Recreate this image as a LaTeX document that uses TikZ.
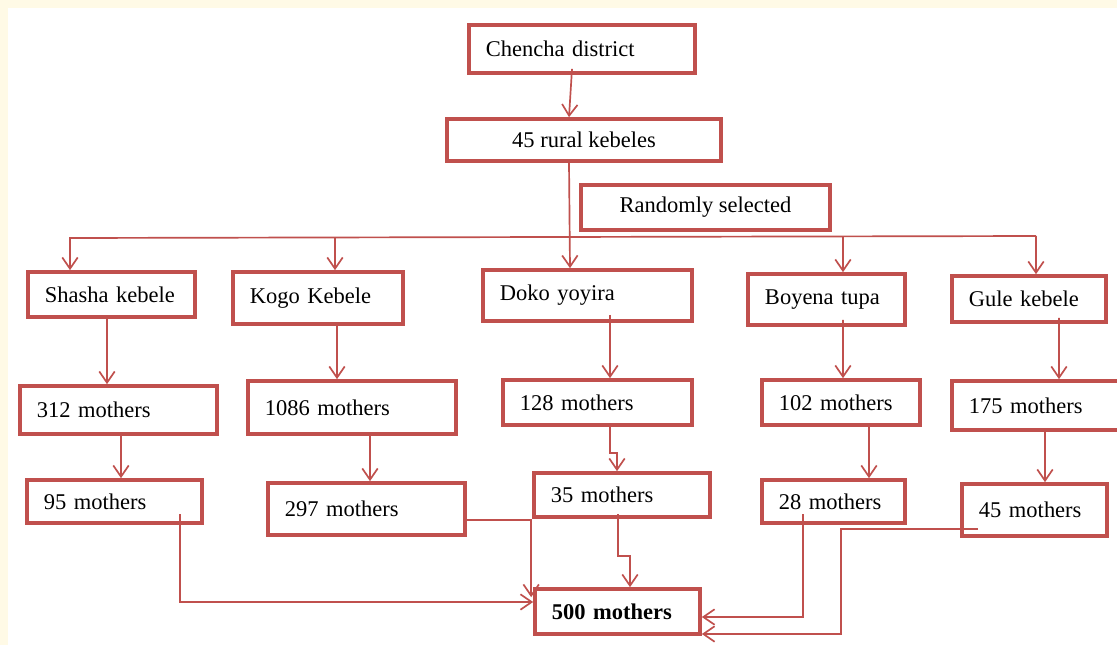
\documentclass[tikz,border=0pt]{standalone}
\usepackage{fontspec}
\setmainfont{Liberation Serif}
\usepackage{xcolor}
\definecolor{frame}{HTML}{C0504D}
\definecolor{paper}{HTML}{FFFAE6}
\usepackage{tikz}
\usetikzlibrary{arrows.meta, calc}

\begin{document}
\begin{tikzpicture}[
  x=0.025cm, y=-0.025cm,
  box/.style={draw=frame, line width=2.6pt, fill=white, align=left,
    inner xsep=0.425cm, font=\fontsize{16}{19}\selectfont},
  arr/.style={draw=frame, line width=1.2pt,
    -{Straight Barb[length=8pt,width=11pt]}},
]
  \clip (0,0) rectangle (1117,645);
  \fill[paper] (0,0) rectangle (1117,645);
  \fill[white] (8,8) rectangle (1117,645);

  % top of the tree
  \node[box, minimum width=5.65cm, minimum height=1.2cm, text width=4.8cm]
    (chencha) at (582,49) {Chencha district};
  \node[box, align=center, minimum width=6.85cm, minimum height=1.05cm]
    (rural) at (584,140) {45 rural kebeles};
  \node[box, align=center, minimum width=6.225cm, minimum height=1.125cm]
    (random) at (705.5,207.5) {Randomly selected};

  % kebeles
  \node[box, minimum width=4.175cm, minimum height=1.125cm, text width=3.325cm]
    (shasha) at (111.5,294.5) {Shasha kebele};
  \node[box, minimum width=4.25cm, minimum height=1.3cm, text width=3.4cm]
    (kogo) at (318,298) {Kogo Kebele};
  \node[box, minimum width=5.225cm, minimum height=1.275cm, text width=4.375cm]
    (doko) at (587.5,295.5) {Doko yoyira};
  \node[box, minimum width=3.925cm, minimum height=1.275cm, text width=3.075cm]
    (boyena) at (826.5,299.5) {Boyena tupa};
  \node[box, minimum width=3.85cm, minimum height=1.15cm, text width=3.0cm]
    (gule) at (1029,299) {Gule kebele};

  % mothers per kebele
  \node[box, minimum width=4.925cm, minimum height=1.2cm, text width=4.075cm]
    (m312) at (118.5,410) {312 mothers};
  \node[box, minimum width=5.2cm, minimum height=1.325cm, text width=4.35cm]
    (m1086) at (352,407.5) {1086 mothers};
  \node[box, minimum width=4.725cm, minimum height=1.125cm, text width=3.875cm]
    (m128) at (597.5,402.5) {128 mothers};
  \node[box, minimum width=3.95cm, minimum height=1.125cm, text width=3.1cm]
    (m102) at (841,402.5) {102 mothers};
  \node[box, minimum width=4.275cm, minimum height=1.225cm, text width=3.425cm]
    (m175) at (1037.5,405.5) {175 mothers};

  % sampled mothers
  \node[box, minimum width=4.375cm, minimum height=1.075cm, text width=3.525cm]
    (m95) at (114.5,501.5) {95 mothers};
  \node[box, minimum width=4.925cm, minimum height=1.3cm, text width=4.075cm]
    (m297) at (366.5,509) {297 mothers};
  \node[box, minimum width=4.4cm, minimum height=1.1cm, text width=3.55cm]
    (m35) at (622,495) {35 mothers};
  \node[box, minimum width=3.575cm, minimum height=1.075cm, text width=2.725cm]
    (m28) at (833.5,501.5) {28 mothers};
  \node[box, minimum width=3.625cm, minimum height=1.3cm, text width=2.775cm]
    (m45) at (1034.5,510) {45 mothers};

  \node[box, minimum width=4.125cm, minimum height=1.125cm, text width=3.275cm,
    font=\fontsize{16}{19}\selectfont\bfseries]
    (m500) at (617.5,611.5) {500 mothers};

  % connectors
  \coordinate (busL) at (70,238);
  \coordinate (busR) at (1036,236);

  \draw[arr] ($(chencha.south)+(-10,-6)$) -- ($(rural.north)+(-15,0)$);
  \draw[arr] ($(rural.south)+(-15,0)$) -- ($(doko.north)+(-17.5,0)$);
  \draw[arr] (busR) -- (busL) -- (busL |- shasha.north);
  \draw[arr] (busR) -- (busR |- gule.north);
  \draw[arr] ($(kogo.north |- busL)+(17,0)$) -- ($(kogo.north)+(17,0)$);
  \draw[arr] ($(boyena.north |- busR)+(16.5,0)$) -- ($(boyena.north)+(16.5,0)$);

  \draw[arr] ($(shasha.south)+(-4.5,0)$) -- ($(m312.north)+(-11.5,0)$);
  \draw[arr] ($(kogo.south)+(19,0)$) -- ($(m1086.north)+(-15,0)$);
  \draw[arr] ($(doko.south)+(22.5,-8)$) -- ($(m128.north)+(12.5,0)$);
  \draw[arr] ($(boyena.south)+(16.5,-7)$) -- ($(m102.north)+(2,0)$);
  \draw[arr] ($(gule.south)+(30,-6)$) -- ($(m175.north)+(21.5,0)$);

  \draw[arr] ($(m312.south)+(2.5,0)$) -- ($(m95.north)+(6.5,0)$);
  \draw[arr] ($(m1086.south)+(18,0)$) -- ($(m297.north)+(3.5,0)$);
  \draw[arr] ($(m128.south)+(12.5,0)$) |- ($(m35.north)+(-5,-18)$)
    -- ($(m35.north)+(-5,0)$);
  \draw[arr] ($(m102.south)+(28,0)$) -- ($(m28.north)+(35.5,0)$);
  \draw[arr] ($(m175.south)+(7.5,0)$) -- ($(m45.north)+(10.5,0)$);

  \draw[arr] ($(m95.center)+(65.5,12.5)$) |- ($(m500.west)+(0,-9.5)$);
  \draw[arr] ($(m297.east)+(0,11)$) -| ($(m500.north west)+(-2,10)$);
  \draw[arr] ($(m35.center)+(-4,19)$) |- ($(m500.north)+(12.5,-31)$)
    -- ($(m500.north)+(12.5,0)$);
  \draw[arr] ($(m28.center)+(-30.5,12.5)$) |- ($(m500.east)+(0,5.5)$);
  \draw[arr] ($(m45.center)+(-56.5,19)$) -- ++(-137,0)
    |- ($(m500.east)+(0,22.5)$);
\end{tikzpicture}
\end{document}
